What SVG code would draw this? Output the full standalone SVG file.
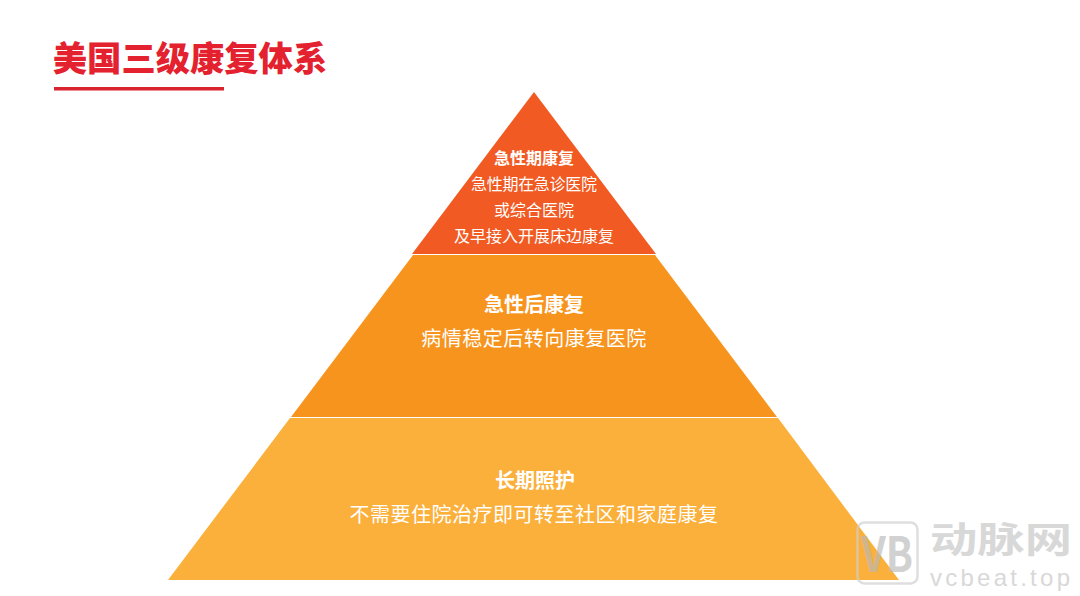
<svg xmlns="http://www.w3.org/2000/svg" width="1080" height="596" viewBox="0 0 1080 596">
<style>
text{font-family:"Noto Sans CJK SC","Noto Sans",sans-serif;text-anchor:middle}
.w{fill:#fff}
.b{font-weight:700}
.s{font-size:16px}
.m{font-size:20px;letter-spacing:.5px}
.h{font-size:20px;font-weight:700}
.wm{fill:#d2d2d2}
</style>
<rect width="1080" height="596" fill="#fff"/>
<g id="title">
<text x="190" y="71" font-weight="900" fill="#e4212e" style="font-size:34.300px">美国三级康复体系</text>
<rect x="54" y="87" width="170" height="3.500" fill="#d9232e"/>
</g>
<g id="tier-acute">
<polygon points="534,92 656,254 412,254" fill="#f15a22"/>
<text class="w s b" x="534" y="164">急性期康复</text>
<text class="w s" x="534" y="190" textLength="126">急性期在急诊医院</text>
<text class="w s" x="534" y="216">或综合医院</text>
<text class="w s" x="534" y="242">及早接入开展床边康复</text>
</g>
<g id="tier-post-acute">
<polygon points="413,255 655,255 777,417 291,417" fill="#f7941d"/>
<text class="w h" x="534" y="312">急性后康复</text>
<text class="w m" x="534" y="346">病情稳定后转向康复医院</text>
</g>
<g id="tier-long-term">
<polygon points="290,418 778,418 899,580 168,580" fill="#fbb03b"/>
<text class="w h" x="535" y="488">长期照护</text>
<text class="w m" x="534" y="522">不需要住院治疗即可转至社区和家庭康复</text>
</g>
<g id="watermark" opacity=".85">
<rect x="857.500" y="522.500" width="60" height="61" rx="7" fill="none" stroke="#cfcfcf" stroke-width="2.500" opacity=".8"/>
<text x="887" y="572" class="wm b" style="font-size:48px;fill:#b9b9b9" opacity=".75" textLength="52" lengthAdjust="spacingAndGlyphs">VB</text>
<text x="1001" y="553" class="wm b" style="font-size:36px" textLength="142" lengthAdjust="spacingAndGlyphs">动脉网</text>
<text x="1000" y="586" class="wm" style="font-size:24px;font-family:'Liberation Sans',sans-serif" textLength="140">vcbeat.top</text>
</g>
</svg>
